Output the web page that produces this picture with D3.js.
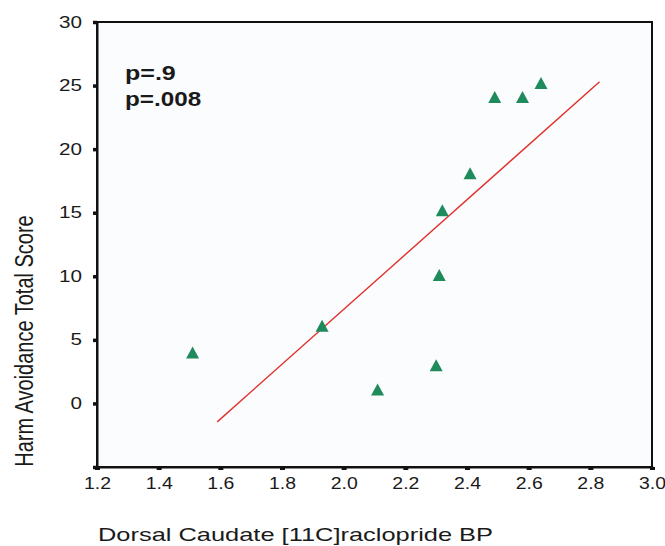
<!DOCTYPE html>
<html>
<head>
<meta charset="utf-8">
<script src="https://cdn.jsdelivr.net/npm/d3@7"></script>
<style>
body { margin: 0; background: #fff; }
text { font-family: 'Liberation Sans', Arial, sans-serif; fill: #1a1a1a; }
.domain { stroke: #111; }
</style>
</head>
<body>
<div id="chart"></div>
<script>
// dorsal caudate BP vs harm avoidance score
let bpValues = [1.51, 1.93, 2.11, 2.30, 2.31, 2.32, 2.41, 2.49, 2.58, 2.64]
let haValues = [4.0, 6.1, 1.1, 3.0, 10.1, 15.2, 18.1, 24.1, 24.1, 25.2]

// fit line ends
let fitX = [1.59, 2.83]
let fitY = [-1.45, 25.3]

let xTicks = [1.2, 1.4, 1.6, 1.8, 2.0, 2.2, 2.4, 2.6, 2.8, 3.0]
let yTicks = [-5, 0, 5, 10, 15, 20, 25, 30]
let pLabels = ['p=.9', 'p=.008']

let margin = { left: 97, right: 13, top: 22, bottom: 79 }
let width = 665, height = 546

let svg = d3.select('#chart')
.append('svg')
.attr('width', width)
.attr('height', height)

let x = d3.scaleLinear()
.domain([1.2, 3.0])
.range([margin.left, width - margin.right])

let y = d3.scaleLinear()
.domain([-5, 30])
.range([height - margin.bottom, margin.top])

svg.append('rect')
.attr('x', x(1.2))
.attr('y', y(30))
.attr('width', x(3.0) - x(1.2))
.attr('height', y(-5) - y(30))
.attr('fill', '#fafcfd')
.attr('stroke', '#111')
.attr('stroke-width', 2)

let xAxis = svg.append('g')
.attr('transform', `translate(0, ${y(-5)})`)
.call(d3.axisBottom(x).tickValues(xTicks).tickFormat(d3.format('.1f')).tickSize(3).tickPadding(8))

xAxis.select('.domain').attr('stroke-width', 2)
xAxis.selectAll('.tick line').attr('stroke', '#111').attr('stroke-width', 5)
xAxis.selectAll('.tick text')
.attr('font-size', 16)
.attr('textLength', 27)
.attr('lengthAdjust', 'spacingAndGlyphs')
.style('fill', '#1a1a1a')

let yAxis = svg.append('g')
.attr('transform', `translate(${x(1.2)}, 0)`)
.call(d3.axisLeft(y).tickValues(yTicks).tickFormat(d => d < 0 ? '' : d).tickSize(4).tickPadding(11))

yAxis.select('.domain').attr('stroke-width', 2)
yAxis.selectAll('.tick line').attr('stroke', '#111').attr('stroke-width', 3.5)
yAxis.selectAll('.tick text')
.filter(d => d >= 0)
.attr('font-size', 16)
.attr('textLength', d => String(d).length * 11.5)
.attr('lengthAdjust', 'spacingAndGlyphs')
.style('fill', '#1a1a1a')

// regression line
let fitData = fitX.map((d, i) => [d, fitY[i]])

svg.append('path')
.datum(fitData)
.attr('d', d3.line().x(d => x(d[0])).y(d => y(d[1])))
.attr('fill', 'none')
.attr('stroke', '#e0302c')
.attr('stroke-width', 1.4)

// triangle markers
let pts = bpValues.map((d, i) => ({ bp: d, ha: haValues[i] }))

svg.selectAll('.point')
.data(pts)
.join('path')
.attr('class', 'point')
.attr('d', 'M0,-6L6.5,6L-6.5,6Z')
.attr('transform', d => `translate(${x(d.bp)}, ${y(d.ha)})`)
.attr('fill', '#1f8a5c')

svg.selectAll('.p-label')
.data(pLabels)
.join('text')
.attr('class', 'p-label')
.attr('x', 125)
.attr('y', (d, i) => 80 + i * 26)
.attr('font-size', 20)
.attr('font-weight', 'bold')
.attr('textLength', d => d.length * 12.7)
.attr('lengthAdjust', 'spacingAndGlyphs')
.text(d => d)

svg.append('text')
.attr('transform', 'translate(33, 341) scale(1.25, 1) rotate(-90)')
.attr('text-anchor', 'middle')
.attr('font-size', 20)
.text('Harm Avoidance Total Score')

svg.append('text')
.attr('x', 98)
.attr('y', 541)
.attr('font-size', 19)
.attr('textLength', 395)
.attr('lengthAdjust', 'spacingAndGlyphs')
.text('Dorsal Caudate [11C]raclopride BP')
</script>
</body>
</html>
